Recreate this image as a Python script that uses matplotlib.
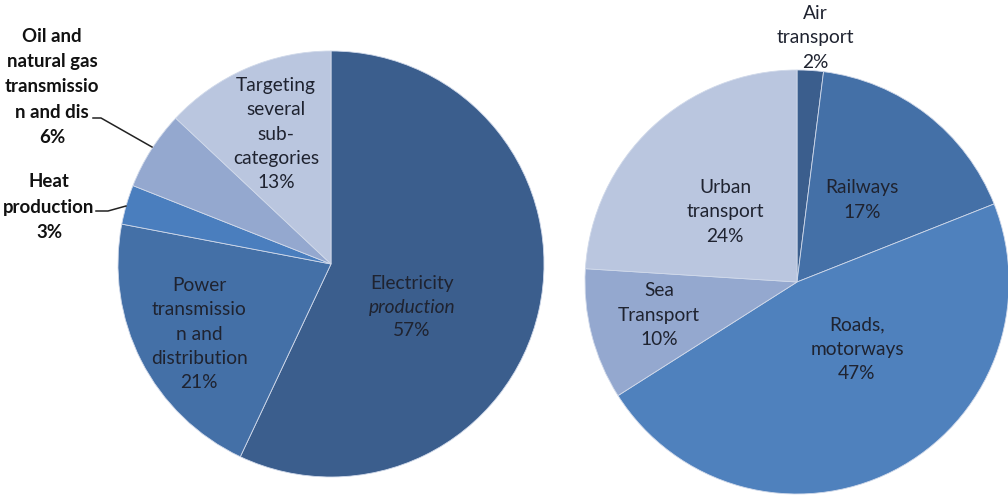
import matplotlib
matplotlib.use("Agg")
import matplotlib.pyplot as plt

# Energy sector breakdown
energy_names = ["Electricity production", "Power transmission and distribution",
                "Heat production", "Oil and natural gas transmission and dis",
                "Targeting several sub-categories"]
energy_share = [57, 21, 3, 6, 13]
energy_colors = ["#3b5e8d", "#4470a7", "#4a7ebe", "#94a8cf", "#bac6df"]

# Transport sector breakdown
transport_names = ["Air transport", "Railways", "Roads, motorways",
                   "Sea Transport", "Urban transport"]
transport_share = [2, 17, 47, 10, 24]
transport_colors = ["#3b5e8d", "#4470a7", "#4f81bd", "#94a8cf", "#bac6df"]

W, H = 1008, 495
plt.rcParams["font.family"] = ["Lato", "DejaVu Sans"]

fig = plt.figure(figsize=(W / 100, H / 100), dpi=100)
ax = fig.add_axes([0, 0, 1, 1])


def Y(y):
    return H - y


wedge_style = dict(edgecolor="#d0d9ea", linewidth=0.6)
ax.pie(energy_share, colors=energy_colors, startangle=90, counterclock=False,
       center=(331, Y(264)), radius=213, wedgeprops=wedge_style)
ax.pie(transport_share, colors=transport_colors, startangle=90, counterclock=False,
       center=(797, Y(282)), radius=212, wedgeprops=wedge_style)
ax.set_xlim(0, W)
ax.set_ylim(0, H)
ax.set_aspect("equal")
ax.axis("off")

txt = dict(ha="center", va="center", fontsize=13.8, color="#1f2330", linespacing=1.52)
bold = dict(ha="center", va="center", fontsize=13.4, color="#111111",
            fontweight="bold", linespacing=1.58)

# Energy labels
ax.text(412, Y(283), "Electricity", **txt)
ax.text(412, Y(307), "production", style="italic", **txt)
ax.text(412, Y(331), f"{energy_share[0]}%", **txt)
ax.text(199, Y(334), f"Power\ntransmissio\nn and\ndistribution\n{energy_share[1]}%", **txt)
ax.text(276, Y(134), f"Targeting\nseveral\nsub-\ncategories\n{energy_share[4]}%", **txt)
ax.text(52, Y(87), f"Oil and\nnatural gas\ntransmissio\nn and dis\n{energy_share[3]}%", **bold)
ax.text(49, Y(207), f"Heat\nproduction\n{energy_share[2]}%", **bold)

# Leader lines for the small energy slices
ax.plot([93, 101, 152], [Y(118), Y(118), Y(147)], color="#222222", lw=1.1)
ax.plot([96, 108, 126], [Y(211), Y(211), Y(206)], color="#222222", lw=1.1)

# Transport labels
ax.text(815, Y(38), f"Air\ntransport\n{transport_share[0]}%", **txt)
ax.text(862, Y(200), f"Railways\n{transport_share[1]}%", **txt)
ax.text(857, Y(349), f"Roads,\nmotorways\n{transport_share[2]}%", **txt)
ax.text(659, Y(315), f"Sea\nTransport\n{transport_share[3]}%", **txt)
ax.text(725, Y(212), f"Urban\ntransport\n{transport_share[4]}%", **txt)

fig.savefig("out.png", dpi=100)
